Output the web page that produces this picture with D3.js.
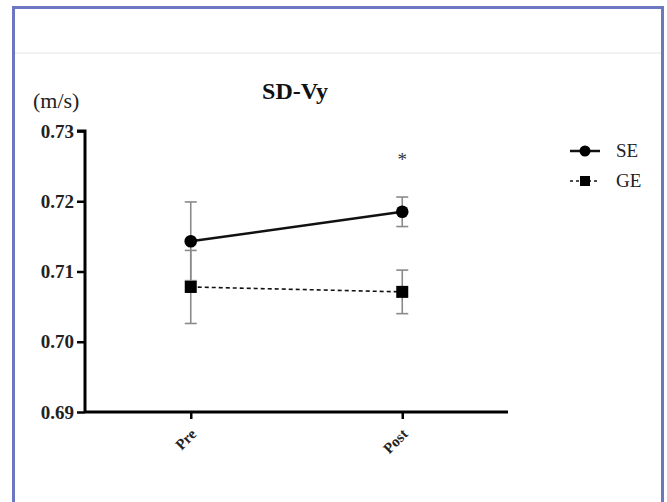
<!DOCTYPE html>
<html>
<head>
<meta charset="utf-8">
<script src="https://cdn.jsdelivr.net/npm/d3@7"></script>
<style>
  body { margin: 0; background: #fff; }
  svg { display: block; }
  text { font-family: "Liberation Serif", "Times New Roman", "DejaVu Serif", serif; }
</style>
</head>
<body>
<svg id="chart" width="667" height="502"></svg>
<script>
const categories = ['Pre', 'Post']
const seriesNames = ['SE', 'GE']
const seMean = [0.7143, 0.7185]
const seSD = [0.0056, 0.0021]
const geMean = [0.7078, 0.7071]
const geSD = [0.0052, 0.0031]
const yTicks = [0.69, 0.70, 0.71, 0.72, 0.73]
const stars = ['', '*']

const serif = '"Liberation Serif", "Times New Roman", "DejaVu Serif", serif'
const svg = d3.select('#chart')

// frame
svg.append('rect')
    .attr('x', 13.5).attr('y', 7.5)
    .attr('width', 649).attr('height', 520)
    .attr('fill', '#fff')
    .attr('stroke', '#6b78c1')
    .attr('stroke-width', 3)
svg.append('line')
    .attr('x1', 15).attr('x2', 661)
    .attr('y1', 53).attr('y2', 53)
    .attr('stroke', '#e3e3e3')
    .attr('stroke-width', 1)

const x = d3.scalePoint().domain(categories).range([85, 508]).padding(0.5)
const y = d3.scaleLinear().domain([0.69, 0.73]).range([412, 131])

svg.append('text')
    .attr('x', 295).attr('y', 99)
    .attr('text-anchor', 'middle')
    .attr('font-family', serif)
    .attr('font-weight', 'bold')
    .attr('font-size', 24)
    .attr('fill', '#111')
    .text('SD-Vy')

svg.append('text')
    .attr('x', 33).attr('y', 108)
    .attr('font-family', serif)
    .attr('font-size', 22)
    .attr('fill', '#222')
    .text('(m/s)')

const yAxis = svg.append('g')
    .attr('transform', 'translate(85,0)')
    .call(d3.axisLeft(y).tickValues(yTicks).tickFormat(d3.format('.2f')).tickSize(8).tickPadding(3))
yAxis.attr('font-family', serif)
yAxis.select('.domain').attr('stroke-width', 3).attr('d', 'M-8,131H0V412')
yAxis.selectAll('.tick line').attr('stroke-width', 2.5)
yAxis.selectAll('.tick text')
    .attr('font-family', serif)
    .attr('font-weight', 'bold')
    .attr('font-size', 19)
    .attr('fill', '#222')

const xAxis = svg.append('g')
    .attr('transform', 'translate(0,412)')
    .call(d3.axisBottom(x).tickSize(7))
xAxis.attr('font-family', serif)
xAxis.select('.domain').attr('stroke-width', 3).attr('d', 'M85,0H508')
xAxis.selectAll('.tick line').attr('stroke-width', 2.5)
xAxis.selectAll('.tick text')
    .attr('font-family', serif)
    .attr('font-weight', 'bold')
    .attr('font-size', 15)
    .attr('fill', '#222')
    .attr('text-anchor', 'end')
    .attr('y', 0)
    .attr('dy', 0)
    .attr('transform', 'translate(6,23) rotate(-45)')

const series = [
    { name: seriesNames[0], mean: seMean, sd: seSD, dash: null, width: 2.5, shape: 'circle' },
    { name: seriesNames[1], mean: geMean, sd: geSD, dash: '4,3', width: 1.6, shape: 'square' }
]

// error bars
series.forEach(s => {
    const g = svg.append('g').attr('stroke', '#8a8a8a').attr('stroke-width', 1.6)
    categories.forEach((c, i) => {
        const hi = y(s.mean[i] + s.sd[i])
        const lo = y(s.mean[i] - s.sd[i])
        g.append('line').attr('x1', x(c)).attr('x2', x(c)).attr('y1', hi).attr('y2', lo)
        g.append('line').attr('x1', x(c) - 6).attr('x2', x(c) + 6).attr('y1', hi).attr('y2', hi)
        g.append('line').attr('x1', x(c) - 6).attr('x2', x(c) + 6).attr('y1', lo).attr('y2', lo)
    })
})

const line = d3.line().x((d, i) => x(categories[i])).y(d => y(d))

series.slice().reverse().forEach(s => {
    svg.append('path')
        .datum(s.mean)
        .attr('d', line)
        .attr('fill', 'none')
        .attr('stroke', '#111')
        .attr('stroke-width', s.width)
        .attr('stroke-dasharray', s.dash)
    if (s.shape === 'circle') {
        svg.selectAll(null).data(s.mean).enter().append('circle')
            .attr('cx', (d, i) => x(categories[i]))
            .attr('cy', d => y(d))
            .attr('r', 6.3)
            .attr('fill', '#000')
    } else {
        svg.selectAll(null).data(s.mean).enter().append('rect')
            .attr('x', (d, i) => x(categories[i]) - 6)
            .attr('y', d => y(d) - 6)
            .attr('width', 12).attr('height', 12)
            .attr('fill', '#000')
    }
})

// significance marks
svg.selectAll(null).data(stars).enter().append('text')
    .attr('x', (d, i) => x(categories[i]))
    .attr('y', (d, i) => y(seMean[i] + seSD[i]) - 31)
    .attr('text-anchor', 'middle')
    .attr('font-family', serif)
    .attr('font-size', 19)
    .attr('fill', '#333')
    .text(d => d)

// legend
const legend = svg.append('g').attr('transform', 'translate(570,0)')
series.forEach((s, i) => {
    const ly = 151 + i * 30
    legend.append('line')
        .attr('x1', 0).attr('x2', 30).attr('y1', ly).attr('y2', ly)
        .attr('stroke', '#111')
        .attr('stroke-width', s.width)
        .attr('stroke-dasharray', s.dash ? '3,3' : null)
    if (s.shape === 'circle') {
        legend.append('circle').attr('cx', 15).attr('cy', ly).attr('r', 5.5).attr('fill', '#000')
    } else {
        legend.append('rect').attr('x', 10).attr('y', ly - 5).attr('width', 10).attr('height', 10).attr('fill', '#000')
    }
    legend.append('text')
        .attr('x', 46).attr('y', ly + 6)
        .attr('font-family', serif)
        .attr('font-size', 19)
        .attr('fill', '#222')
        .text(s.name)
})
</script>
</body>
</html>
